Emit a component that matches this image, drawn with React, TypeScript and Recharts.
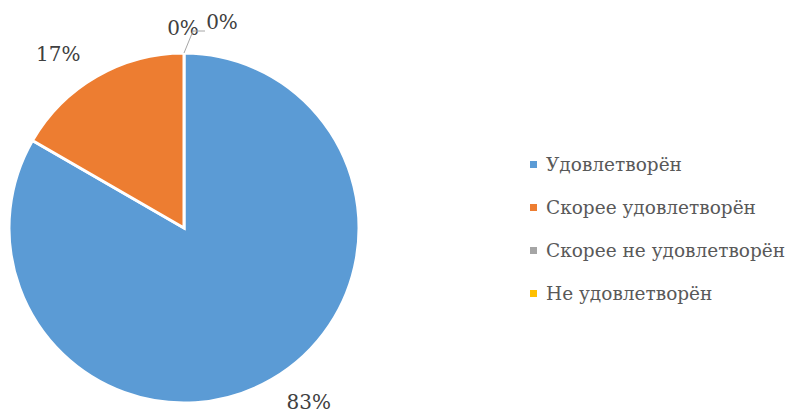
import { Cell, Legend, Pie, PieChart } from "recharts";

const CATEGORIES = ["Удовлетворён", "Скорее удовлетворён", "Скорее не удовлетворён", "Не удовлетворён"];
const VALUES = [10, 2, 0, 0];
const COLORS = ["#5B9BD5", "#ED7D31", "#A5A5A5", "#FFC000"];

const FONT = "'DejaVu Serif', serif";
const RAD = Math.PI / 180;

const data = CATEGORIES.map((name, i) => ({ name, value: VALUES[i] }));
const total = VALUES.reduce((a, b) => a + b, 0);

function renderLabel(props: any) {
  const { cx, cy, midAngle, outerRadius, value, index } = props;
  const pct = `${Math.round((value / total) * 100)}%`;
  if (value === 0) {
    // zero slices sit at the top; Excel spreads them sideways
    const top = cy - outerRadius;
    return (
      <g key={`l${index}`}>
        {index === 3 && (
          <polyline
            points={`${cx},${top} ${cx + 9},${top - 22} ${cx + 21},${top - 22}`}
            fill="none"
            stroke="#A6A6A6"
            strokeWidth={1}
          />
        )}
        <text
          x={index === 3 ? cx + 38 : cx - 1}
          y={index === 3 ? top - 31 : top - 25}
          fill="#404040"
          fontFamily={FONT}
          fontSize={20}
          textAnchor="middle"
          dominantBaseline="central"
        >
          {pct}
        </text>
      </g>
    );
  }
  const r = outerRadius + 26;
  const x = cx + r * Math.cos(-midAngle * RAD);
  const y = cy + r * Math.sin(-midAngle * RAD);
  return (
    <text
      key={`l${index}`}
      x={x > cx ? x + 2 : x - 3}
      y={y}
      fill="#404040"
      fontFamily={FONT}
      fontSize={20}
      textAnchor={x > cx ? "start" : "end"}
      dominantBaseline="central"
    >
      {pct}
    </text>
  );
}

function LegendBox() {
  return (
    <div style={{ fontFamily: FONT, fontSize: 18.5, color: "#595959" }}>
      {CATEGORIES.map((c, i) => (
        <div key={c} style={{ display: "flex", alignItems: "center", height: 43, whiteSpace: "nowrap" }}>
          <span
            style={{ width: 7, height: 7, flexShrink: 0, background: COLORS[i], marginRight: 9, display: "inline-block" }}
          />
          <span>{c}</span>
        </div>
      ))}
    </div>
  );
}

export default function App() {
  return (
    <div style={{ position: "absolute", left: 0, top: 0, width: 795, height: 415, background: "#fff" }}>
      <PieChart width={795} height={415} margin={{ top: 0, right: 0, bottom: 0, left: 0 }}>
        <Pie
          data={data}
          dataKey="value"
          nameKey="name"
          cx={184}
          cy={228}
          outerRadius={175}
          startAngle={90}
          endAngle={-270}
          stroke="#fff"
          strokeWidth={3}
          label={renderLabel}
          labelLine={false}
          isAnimationActive={false}
        >
          {data.map((_, i) => (
            <Cell key={i} fill={COLORS[i]} />
          ))}
        </Pie>
        <Legend content={<LegendBox />} wrapperStyle={{ left: 530, top: 143, width: 265 }} />
      </PieChart>
    </div>
  );
}
